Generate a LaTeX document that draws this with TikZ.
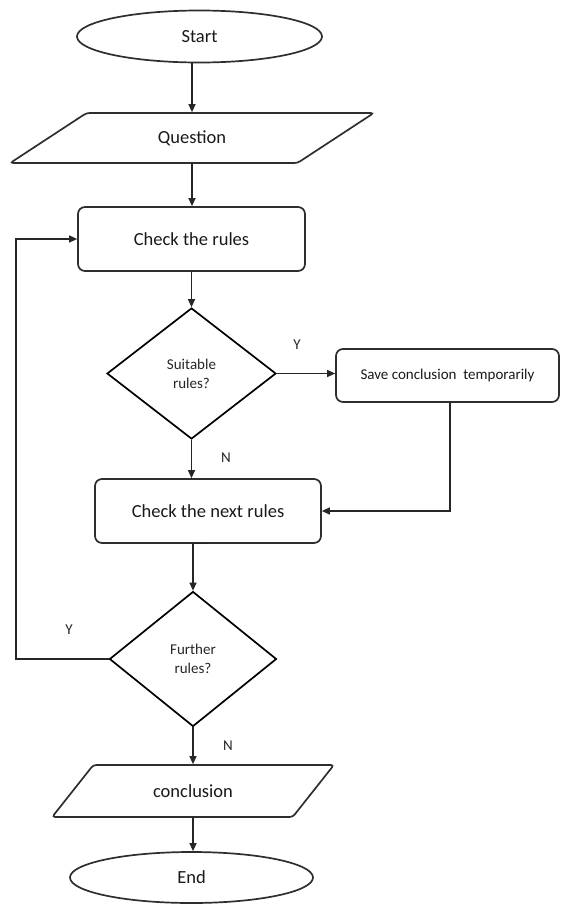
\documentclass[tikz,border=0pt]{standalone}
\usepackage{fontspec}
\setmainfont{Carlito}
\usetikzlibrary{shapes.geometric,arrows.meta}
\begin{document}
\begin{tikzpicture}[x=1pt,y=-1pt,
  base/.style={draw=black!82,line width=1.7pt,inner sep=0pt,font=\fontsize{18.5}{20}\selectfont,text=black!90},
  oval/.style={base,ellipse,minimum width=#1,minimum height=52pt},
  para/.style={base,trapezium,trapezium stretches=true,rounded corners=3pt},
  rbox/.style={base,rectangle,rounded corners=7pt},
  dec/.style={draw=black,line width=1.7pt,diamond,inner sep=0pt,align=center,font=\fontsize{15}{19}\selectfont,text=black!85},
  arr/.style={draw=black!85,line width=1.2pt,-{Triangle[length=8pt,width=7pt]}},
  conn/.style={draw=black!85,line width=1.2pt},
  lab/.style={font=\fontsize{15}{17}\selectfont,text=black!85,inner sep=0pt}]
\useasboundingbox (0,0) rectangle (561,905);
\node[oval=245pt] (start) at (199.5,36.5) {Start};
\node[para,trapezium left angle=31.7,trapezium right angle=148.3,minimum width=364pt,minimum height=50pt] (q) at (192,138) {Question};
\node[rbox,minimum width=227pt,minimum height=64pt] (check) at (191.5,239) {Check the rules};
\node[dec,minimum width=169pt,minimum height=131pt] (d1) at (191.5,373.5) {Suitable\\rules?};
\node[rbox,minimum width=223pt,minimum height=53pt,font=\fontsize{15}{17}\selectfont] (save) at (447.5,375.5) {Save conclusion\ \ temporarily};
\node[rbox,minimum width=226pt,minimum height=64pt] (next) at (208,511) {Check the next rules};
\node[dec,minimum width=167pt,minimum height=135pt] (d2) at (193,659) {Further\\rules?};
\node[para,trapezium left angle=38.2,trapezium right angle=141.8,minimum width=282pt,minimum height=52pt] (c) at (193,791) {conclusion};
\node[oval=243pt,minimum height=51pt] (end) at (191.5,877.5) {End};
\coordinate (loopx) at (16,0);
\coordinate (savex) at (450,0);
\draw[arr] (start.south -| q.north) -- (q.north);
\draw[arr] (q.south) -- (q.south |- check.north);
\draw[arr] (check.south) -- (d1.north);
\draw[arr] (d1.east) -- (d1.east -| save.west);
\draw[arr] (save.south -| savex) -- (savex |- next.east) -- (next.east);
\draw[arr] (d1.south) -- (d1.south |- next.north);
\draw[arr] (next.south) -- (next.south -| d2.north) -- (d2.north);
\draw[arr] (d2.west) -- (d2.west -| loopx) |- (check.west);
\draw[arr] (d2.south) -- (d2.south |- c.north);
\draw[arr] (c.south) -- (c.south |- end.north);
\node[lab] (ly1) at (297,345) {Y};
\node[lab] (ln1) at (226,458) {N};
\node[lab] (ly2) at (69,630) {Y};
\node[lab] (ln2) at (228,746) {N};
\end{tikzpicture}
\end{document}
